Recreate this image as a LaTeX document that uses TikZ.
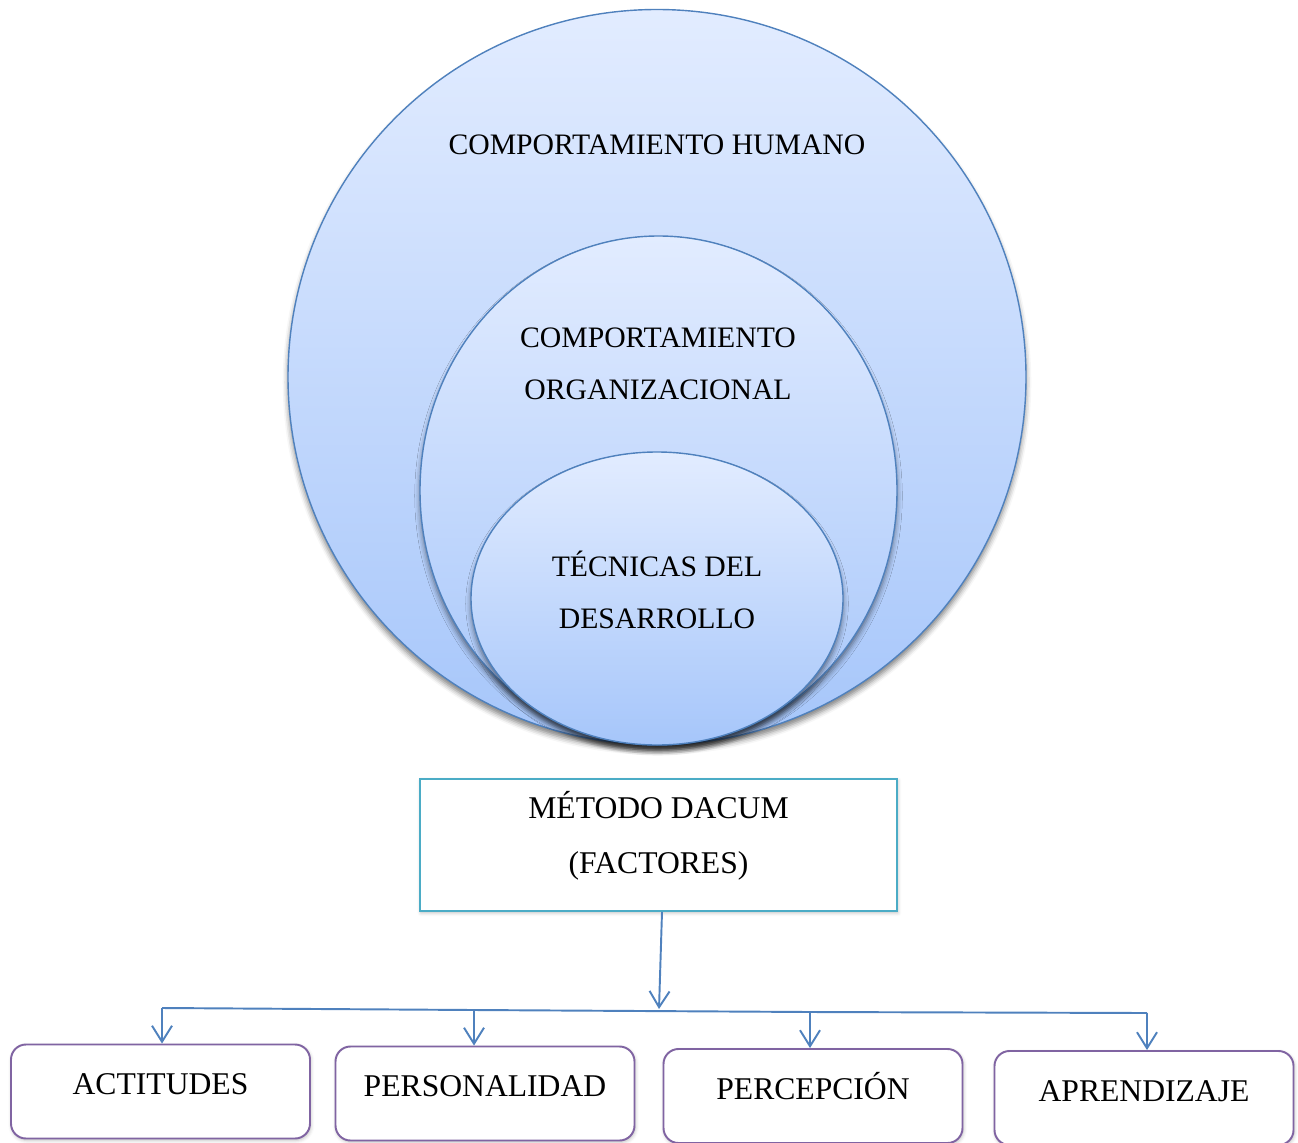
\documentclass[tikz,border=0pt]{standalone}
\usepackage{fontspec}
\setmainfont{Liberation Serif}
\usetikzlibrary{arrows.meta,shapes.geometric,shadows.blur}
\definecolor{azul}{RGB}{79,129,189}
\definecolor{claro}{RGB}{226,236,255}
\definecolor{oscuro}{RGB}{166,198,250}
\definecolor{turq}{RGB}{75,172,198}
\definecolor{lila}{RGB}{128,100,162}

\begin{document}
\begin{tikzpicture}[every node/.style={font=\fontsize{16.9}{29.5}\selectfont}, >={Straight Barb[length=3.2mm, width=4mm]}, ov/.style={ellipse, draw=azul, line width=0.8pt, top color=claro, bottom color=oscuro, inner sep=0pt, outer sep=0pt, blur shadow={shadow xshift=0pt, shadow yshift=-3pt, shadow blur radius=3pt, shadow opacity=50}}, fb/.style={draw=lila, line width=1.1pt, rounded corners=0.3cm, fill=white, minimum width=5.98cm, minimum height=1.88cm, text height=0.36cm, text depth=0.24cm, inner sep=0pt, font=\fontsize{18}{31}\selectfont, blur shadow={shadow xshift=0.5pt, shadow yshift=-1pt, shadow blur radius=2pt, shadow opacity=25}}, con/.style={->, draw=azul, line width=1.1pt}]
	\useasboundingbox (0,0) rectangle (25.96,-22.84);
	\node (hum) [ov, minimum width=14.76cm, minimum height=14.70cm] at (13.14,-7.54) {};
	\node (org) [ov, minimum width=9.54cm, minimum height=10.18cm] at (13.17,-9.81) {};
	\node (tec) [ov, minimum width=7.44cm, minimum height=5.86cm] at (13.14,-11.97) {};
	\node (humt) at (13.14,-2.90) {COMPORTAMIENTO HUMANO};
	\node (orgt) [align=center] at (13.16,-7.28) {COMPORTAMIENTO\\ORGANIZACIONAL};
	\node (tect) [align=center] at (13.14,-11.80) {TÉCNICAS DEL\\DESARROLLO};
	\node (dacum) [draw=turq, line width=1.1pt, fill=white, minimum width=9.54cm, minimum height=2.64cm, inner sep=0pt, blur shadow={shadow xshift=0.5pt, shadow yshift=-1pt, shadow blur radius=2pt, shadow opacity=25}] at (13.17,-16.90) {};
	\node (dacumt) [align=center, font=\fontsize{18}{31.2}\selectfont] at (13.17,-16.71) {MÉTODO DACUM\\(FACTORES)};
	\node (act) [fb] at (3.21,-21.83) {ACTITUDES};
	\node (per) [fb] at (9.70,-21.87) {PERSONALIDAD};
	\node (perc) [fb] at (16.26,-21.92) {PERCEPCIÓN};
	\node (apr) [fb] at (22.88,-21.96) {APRENDIZAJE};
	\coordinate (b1) at (3.24,-20.16);
	\coordinate (b2) at (9.48,-20.20);
	\coordinate (bm) at (13.18,-20.18);
	\coordinate (b3) at (16.20,-20.24);
	\coordinate (b4) at (22.94,-20.26);
	\draw[con] ([xshift=0.07cm]dacum.south) -- (bm);
	\draw[azul, line width=1.1pt] (b1) -- (b2) -- (b3) -- (b4);
	\draw[con] (b1) -- (b1 |- act.north);
	\draw[con] (b2) -- (b2 |- per.north);
	\draw[con] (b3) -- (b3 |- perc.north);
	\draw[con] (b4) -- (b4 |- apr.north);
\end{tikzpicture}
\end{document}
